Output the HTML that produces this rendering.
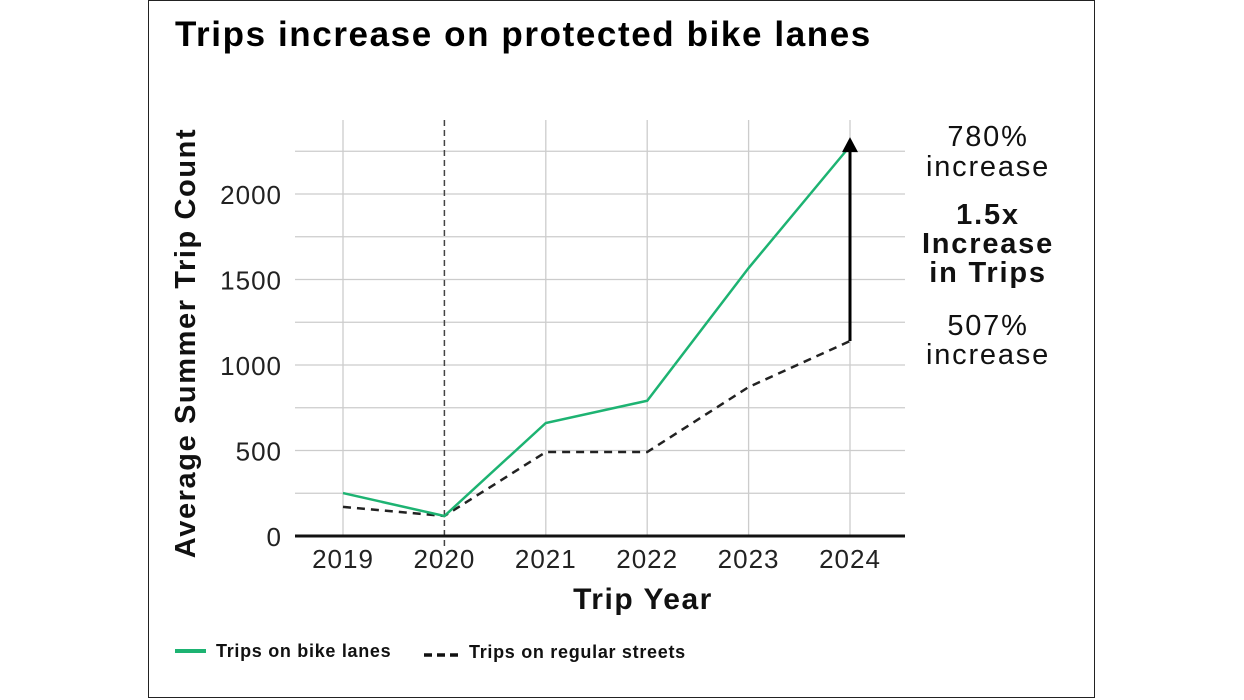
<!DOCTYPE html>
<html><head><meta charset="utf-8"><style>
body{margin:0;background:#fff;width:1244px;height:700px;overflow:hidden;font-family:"Liberation Sans",sans-serif}
#frame{position:absolute;left:148px;top:0;width:947px;height:698px;border:1px solid #222;box-sizing:border-box}
</style></head><body>
<div id="frame"></div>
<svg id="c" width="1244" height="700" style="position:absolute;left:0;top:0">
<text x="175" y="46" font-size="35" font-weight="bold" letter-spacing="1.6" fill="#000">Trips increase on protected bike lanes</text>
</svg>
<script>
const years=["2019","2020","2021","2022","2023","2024"];
const bikeLanes=[251,117,661,791,1567,2280];
const regularStreets=[170,117,491,491,871,1140];
const yTicks=[0,500,1000,1500,2000];
const gridVals=[250,750,1250,1750,2250];
const svg=document.getElementById('c');const NS='http://www.w3.org/2000/svg';
function mk(t,a,p){const e=document.createElementNS(NS,t);for(const k in a)e.setAttribute(k,a[k]);(p||svg).appendChild(e);return e;}
const x=i=>343+i*101.4;
const y=v=>536-v*85.5/500;
[...yTicks.slice(1),...gridVals].forEach(v=>{const l=mk('line',{x1:295,x2:905,y1:y(v),y2:y(v),stroke:'#ccc','stroke-width':1.3});

});
years.forEach((yr,i)=>{if(i!==1){const l=mk('line',{x1:x(i),x2:x(i),y1:120,y2:536,stroke:'#ccc','stroke-width':1.3});

}
const t=mk('text',{x:x(i),y:568,'text-anchor':'middle','font-size':26,'letter-spacing':1,fill:'#222'});t.textContent=yr;

});
const vd=mk('line',{x1:x(1),x2:x(1),y1:120,y2:548,stroke:'#444','stroke-width':1.5,'stroke-dasharray':'6 4'});


yTicks.forEach(v=>{const t=mk('text',{x:282,y:y(v)+10,'text-anchor':'end','font-size':26,'letter-spacing':1,fill:'#222'});t.textContent=v;

});
const ax=mk('line',{x1:295,x2:905,y1:536,y2:536,stroke:'#111','stroke-width':3});


const pd=mk('polyline',{points:regularStreets.map((v,i)=>x(i)+','+y(v)).join(' '),fill:'none',stroke:'#222','stroke-width':2.5,'stroke-dasharray':'8 6'});


const pg=mk('polyline',{points:bikeLanes.map((v,i)=>x(i)+','+y(v)).join(' '),fill:'none',stroke:'#1db372','stroke-width':2.5});


const ar=mk('line',{x1:x(5),x2:x(5),y1:y(regularStreets[5]),y2:y(bikeLanes[5])+4,stroke:'#000','stroke-width':3});


const ah=mk('polygon',{points:`${x(5)-8},${y(bikeLanes[5])+6} ${x(5)+8},${y(bikeLanes[5])+6} ${x(5)},${y(bikeLanes[5])-9}`,fill:'#000'});


const yt=mk('text',{x:0,y:0,transform:'translate(195,343) rotate(-90)','text-anchor':'middle','font-size':29,'font-weight':'bold','letter-spacing':1.6,fill:'#111'});yt.textContent='Average Summer Trip Count';


const xt=mk('text',{x:643,y:609,'text-anchor':'middle','font-size':30,'font-weight':'bold','letter-spacing':1.5,fill:'#111'});xt.textContent='Trip Year';


[['780%',146,false],['increase',176,false],['1.5x',224,true],['Increase',253,true],['in Trips',282,true],['507%',335,false],['increase',364,false]].forEach(a=>{
const t=mk('text',{x:988,y:a[1],'text-anchor':'middle','font-size':29,'letter-spacing':1.8,'font-weight':a[2]?'bold':'normal',fill:'#111'});t.textContent=a[0];

});
const lg=mk('line',{x1:175,x2:206,y1:651,y2:651,stroke:'#1db372','stroke-width':4});


const lgt=mk('text',{x:216,y:657,'font-size':18,'font-weight':'bold','letter-spacing':0.7,fill:'#111'});lgt.textContent='Trips on bike lanes';


const ld=mk('line',{x1:424,x2:459,y1:655,y2:655,stroke:'#111','stroke-width':3.5,'stroke-dasharray':'8 5'});


const ldt=mk('text',{x:469,y:658,'font-size':18,'font-weight':'bold','letter-spacing':0.7,fill:'#111'});ldt.textContent='Trips on regular streets';


</script>
</body></html>
